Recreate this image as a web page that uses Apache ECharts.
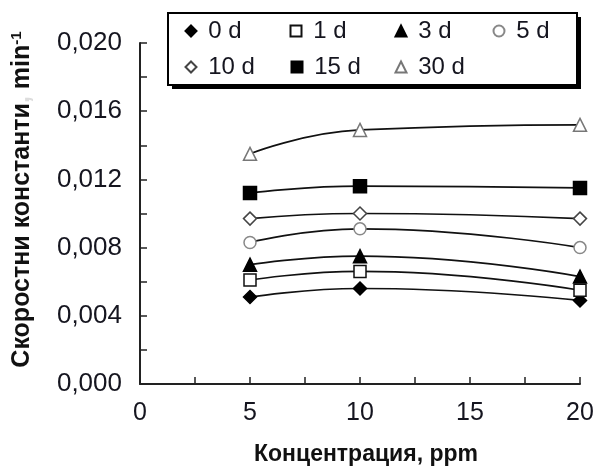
<!DOCTYPE html>
<html>
<head>
<meta charset="utf-8">
<script src="https://cdn.jsdelivr.net/npm/echarts@6/dist/echarts.min.js"></script>
<style>
  html, body { margin: 0; padding: 0; background: #fff; }
  #chart { width: 596px; height: 468px; }
</style>
</head>
<body>
<div id="chart"></div>
<script>
// Concentrations (ppm) at which the rate constants were measured
const concentrations = [5, 10, 20];

// Rate constants (min^-1) for each storage time
const series0d  = [0.0051, 0.0056, 0.0049];
const series1d  = [0.0061, 0.0066, 0.0055];
const series3d  = [0.0070, 0.0075, 0.0063];
const series5d  = [0.0083, 0.0091, 0.0080];
const series10d = [0.0097, 0.0100, 0.0097];
const series15d = [0.0112, 0.0116, 0.0115];
const series30d = [0.0135, 0.0149, 0.0152];

const seriesNames = ['0 d', '1 d', '3 d', '5 d', '10 d', '15 d', '30 d'];

const FONT = 'Liberation Sans, Arial, sans-serif';
const TEXT = '#15151f';

// marker appearance per series: [symbol, fill, border, size]
const markers = [
  ['diamond',  '#000', '#000', 13],
  ['rect',     '#fff', '#111', 12],
  ['triangle', '#000', '#000', 13],
  ['circle',   '#fff', '#888', 12],
  ['diamond',  '#fff', '#444', 13],
  ['rect',     '#000', '#000', 13],
  ['triangle', '#fff', '#777', 13]
];

// legend slot for each series: [icon centre x, row centre y]
const legendSlots = [
  [190, 33], [295, 33], [400, 33], [498, 33],
  [190, 69], [296, 69], [400, 69]
];

const values = [series0d, series1d, series3d, series5d, series10d, series15d, series30d];

const chartSeries = values.map((vals, i) => ({
  name: seriesNames[i],
  type: 'line',
  smooth: 0.5,
  data: concentrations.map((c, k) => [c, vals[k]]),
  symbol: markers[i][0],
  symbolSize: markers[i][3],
  showAllSymbol: true,
  lineStyle: { color: '#111', width: 1.7 },
  itemStyle: { color: markers[i][1], borderColor: markers[i][2], borderWidth: 1.5 },
  z: 3
}));

const ICON = 11;
const legends = seriesNames.map((n, i) => ({
  data: [{ name: n, icon: markers[i][0] }],
  left: legendSlots[i][0] - ICON / 2,
  top: legendSlots[i][1] - 14,
  itemWidth: ICON,
  itemHeight: ICON,
  padding: 0,
  z: 5,
  formatter: name => ' ' + name,
  textStyle: { fontFamily: FONT, fontSize: 24, color: TEXT }
}));

const chart = echarts.init(document.getElementById('chart'), null, { renderer: 'canvas' });
chart.setOption({
  animation: false,
  backgroundColor: '#fff',
  grid: { left: 140, right: 16, top: 43, bottom: 84, containLabel: false, outerBoundsMode: 'none' },
  graphic: [
    // legend frame with its drop shadow
    { type: 'rect', z: 1, shape: { x: 172, y: 17, width: 409, height: 72 }, style: { fill: '#000' } },
    { type: 'rect', z: 2, shape: { x: 168, y: 13, width: 409, height: 72 },
      style: { fill: '#fff', stroke: '#000', lineWidth: 2 } }
  ],
  legend: legends,
  xAxis: {
    type: 'value',
    min: 0, max: 20, interval: 2.5,
    name: 'Концентрация, ppm',
    nameLocation: 'middle',
    nameGap: 59,
    nameTextStyle: { fontFamily: FONT, fontSize: 23, fontWeight: 'bold', color: '#111', padding: [0, 0, 0, 12] },
    axisLine: { lineStyle: { color: '#222', width: 2 } },
    axisTick: { inside: true, length: 7, lineStyle: { color: '#222', width: 1.5 } },
    axisLabel: {
      margin: 17, fontFamily: FONT, fontSize: 25, color: TEXT,
      formatter: v => (v % 5 === 0 ? String(v) : '')
    },
    splitLine: { show: false }
  },
  yAxis: {
    type: 'value',
    min: 0, max: 0.02, interval: 0.002,
    name: 'Скоростни константи{c|,} min{sup|-1}',
    nameLocation: 'middle',
    nameRotate: 90,
    nameGap: 104,
    nameTextStyle: {
      fontFamily: FONT, fontSize: 25, fontWeight: 'bold', color: '#111',
      padding: [0, 0, 0, 28],
      rich: {
        c: { fontFamily: FONT, fontSize: 25, fontWeight: 'bold', color: '#ddd' },
        sup: { fontFamily: FONT, fontSize: 15, fontWeight: 'bold', color: '#111', verticalAlign: 'top', padding: [0, 0, 12, 0] }
      }
    },
    axisLine: { show: true, lineStyle: { color: '#222', width: 2 } },
    axisTick: { show: true, inside: true, length: 7, lineStyle: { color: '#222', width: 1.5 } },
    axisLabel: {
      margin: 18, fontFamily: FONT, fontSize: 26, color: TEXT,
      formatter: v => (Math.round(v * 1000) % 4 === 0 ? v.toFixed(3).replace('.', ',') : '')
    },
    splitLine: { show: false }
  },
  series: chartSeries
});
</script>
</body>
</html>
